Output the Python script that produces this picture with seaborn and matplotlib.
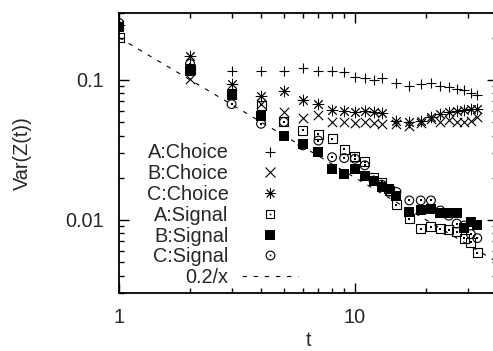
import matplotlib
matplotlib.use("Agg")
import matplotlib.pyplot as plt
import seaborn as sns
from matplotlib.lines import Line2D
from matplotlib.legend_handler import HandlerTuple
from matplotlib.ticker import FixedLocator, FixedFormatter, LogLocator, NullFormatter

# ---------------- data ----------------
t_choice = [1, 2, 3, 4, 5, 6, 7, 8, 9, 10, 11, 12, 13,
            15, 17, 19, 21, 23, 25, 27, 29, 31, 33]
t_signal = [1, 2, 3, 4, 5, 6, 7, 8, 9, 10, 11, 12, 13, 14, 15,
            17, 19, 21, 23, 25, 27, 29, 31, 33]

a_choice = [0.245, 0.13, 0.116, 0.116, 0.116, 0.122, 0.116, 0.116, 0.113, 0.105,
            0.103, 0.100, 0.103, 0.095, 0.091, 0.093, 0.095, 0.091, 0.089, 0.086,
            0.084, 0.080, 0.0785]
b_choice = [0.245, 0.101, 0.079, 0.067, 0.059, 0.053, 0.056, 0.050, 0.050, 0.049,
            0.050, 0.049, 0.048, 0.048, 0.047, 0.049, 0.0527, 0.050, 0.0512, 0.050,
            0.050, 0.051, 0.054]
c_choice = [0.245, 0.148, 0.094, 0.077, 0.083, 0.072, 0.067, 0.061, 0.060, 0.059,
            0.060, 0.059, 0.058, 0.051, 0.050, 0.051, 0.054, 0.057, 0.059, 0.060,
            0.061, 0.062, 0.062]

a_signal = [0.20, 0.118, 0.079, 0.066, 0.050, 0.0435, 0.041, 0.038, 0.032, 0.0285,
            0.026, 0.0202, 0.0186, 0.0162, 0.0128, 0.0102, 0.0086, 0.0089, 0.0086,
            0.0085, 0.0082, 0.0074, 0.0069, 0.0058]
b_signal = [0.24, 0.116, 0.079, 0.055, 0.0395, 0.035, 0.0306, 0.0232, 0.0213, 0.0231,
            0.0207, 0.0189, 0.0171, 0.0165, 0.0149, 0.0114, 0.0117, 0.0120, 0.0112,
            0.0112, 0.0112, 0.0087, 0.0097, 0.0092]
c_signal = [0.255, 0.13, 0.067, 0.0485, 0.050, 0.034, 0.0368, 0.028, 0.0276, 0.0273,
            0.0245, 0.0191, 0.0178, 0.0159, 0.0158, 0.01375, 0.01375, 0.01375, 0.01165,
            0.0107, 0.0094, 0.0091, 0.0079, 0.0074]

ref_x = [1, 40]
ref_y = [0.2, 0.005]

labels = ["A:Choice", "B:Choice", "C:Choice", "A:Signal", "B:Signal", "C:Signal", "0.2/x"]
xtick_vals = [1, 10]
xtick_labels = ["1", "10"]
ytick_vals = [0.01, 0.1]
ytick_labels = ["0.01", "0.1"]

# ---------------- style ----------------
sns.set_style("ticks")
plt.rcParams["font.family"] = ["Liberation Sans", "DejaVu Sans"]
FS = 14.3

fig = plt.figure(figsize=(4.93, 3.51), dpi=100)
ax = fig.add_axes([119 / 493, 58 / 351, (497 - 119) / 493, (293 - 13) / 351])

LW = 0.8
STAR = (8, 2, 0)

sns.lineplot(x=ref_x, y=ref_y, ax=ax, color="k", lw=0.8, linestyle=(0, (4, 6)))

sns.scatterplot(x=t_choice, y=a_choice, marker="+", s=60, color="k", linewidth=LW, ax=ax)
sns.scatterplot(x=t_choice, y=b_choice, marker="x", s=45, color="k", linewidth=LW, ax=ax)
sns.scatterplot(x=t_choice, y=c_choice, marker=STAR, s=60, color="k", linewidth=0.65, ax=ax)
sns.scatterplot(x=t_signal, y=a_signal, marker="s", s=42, facecolors="none",
                edgecolors="k", linewidth=LW, ax=ax)
sns.scatterplot(x=t_signal, y=a_signal, marker="s", s=1.5, color="k", linewidth=0, ax=ax)
sns.scatterplot(x=t_signal, y=b_signal, marker="s", s=48, color="k", linewidth=0, ax=ax)
sns.scatterplot(x=t_signal, y=c_signal, marker="o", s=40, facecolors="none",
                edgecolors="k", linewidth=LW, ax=ax)
sns.scatterplot(x=t_signal, y=c_signal, marker="s", s=1.5, color="k", linewidth=0, ax=ax)

ax.set_xscale("log")
ax.set_yscale("log")
ax.set_xlim(1, 40)
ax.set_ylim(0.003, 0.3)

ax.xaxis.set_major_locator(FixedLocator(xtick_vals))
ax.xaxis.set_major_formatter(FixedFormatter(xtick_labels))
ax.yaxis.set_major_locator(FixedLocator(ytick_vals))
ax.yaxis.set_major_formatter(FixedFormatter(ytick_labels))
ax.xaxis.set_minor_locator(LogLocator(base=10, subs=range(2, 10)))
ax.yaxis.set_minor_locator(LogLocator(base=10, subs=range(2, 10)))
ax.xaxis.set_minor_formatter(NullFormatter())
ax.yaxis.set_minor_formatter(NullFormatter())

ax.tick_params(which="both", direction="in", top=True, right=True, color="k", width=1.0)
ax.tick_params(which="major", length=7, labelsize=FS)
ax.tick_params(axis="x", which="major", pad=10.5)
ax.tick_params(axis="y", which="major", pad=11)
ax.tick_params(which="minor", length=3.8)
for sp in ax.spines.values():
    sp.set_linewidth(1.3)
    sp.set_color("k")

ax.set_xlabel("t", fontsize=FS, labelpad=3)
ax.set_ylabel("Var(Z(t))", fontsize=FS, labelpad=24)

# ---------------- legend (gnuplot style: label then symbol) ----------------
mk = dict(linestyle="none", color="k", markeredgewidth=LW)
dot = dict(marker="s", markersize=1.2, markeredgewidth=0, linestyle="none", color="k")
h_a = Line2D([], [], marker="+", markersize=7.7, **mk)
h_b = Line2D([], [], marker="x", markersize=6.7, **mk)
h_c = Line2D([], [], marker=STAR, markersize=7.7, linestyle="none", color="k",
             markeredgewidth=0.65)
h_as = (Line2D([], [], marker="s", markersize=6.4, markerfacecolor="none", **mk),
        Line2D([], [], **dot))
h_bs = Line2D([], [], marker="s", markersize=6.9, linestyle="none", color="k", markeredgewidth=0)
h_cs = (Line2D([], [], marker="o", markersize=6.3, markerfacecolor="none", **mk),
        Line2D([], [], **dot))
h_ref = Line2D([], [], color="k", lw=0.8, linestyle=(0, (4, 6)))

ax.legend([h_a, h_b, h_c, h_as, h_bs, h_cs, h_ref], labels,
          handler_map={tuple: HandlerTuple(ndivide=1, pad=0)},
          loc="upper right", bbox_to_anchor=(298 / 493, 1 - 143.5 / 351),
          bbox_transform=fig.transFigure, frameon=False, markerfirst=False,
          handlelength=2.8, handletextpad=0.7, labelspacing=0.09,
          borderpad=0, borderaxespad=0, fontsize=FS)

fig.savefig("out.png", dpi=100)
